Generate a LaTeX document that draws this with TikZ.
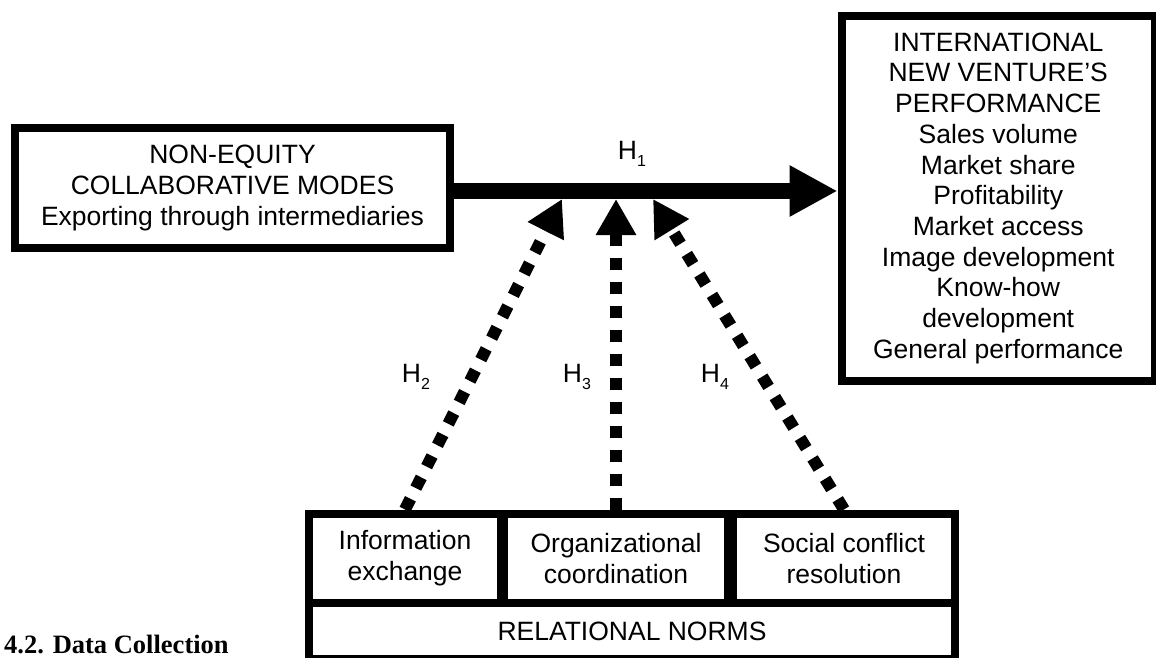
\documentclass[tikz,border=0pt]{standalone}
\usepackage{fontspec}
\setmainfont{Liberation Sans}
\newfontfamily\headfont{Liberation Serif}
\usetikzlibrary{arrows.meta}
\newcommand{\hyp}[1]{H\raisebox{-0.28em}{\fontsize{16}{16}\selectfont #1}}

\begin{document}
\begin{tikzpicture}[x=1pt,y=-1pt,
  box/.style={draw,line width=8pt,rectangle,align=center,inner sep=0pt,font=\fontsize{26.5}{30.7}\selectfont},
  hlabel/.style={inner sep=0pt,font=\fontsize{26.5}{30.7}\selectfont},
  dotarrow/.style={line width=12pt,dash pattern=on 12pt off 12pt,-{Triangle[length=36pt,width=38pt]}}]
\useasboundingbox (0,0) rectangle (1156,658);
\node[box,minimum width=435pt,minimum height=120pt] (modes) at (232.5,188) {NON-EQUITY\\COLLABORATIVE MODES\\Exporting through intermediaries};
\node[box,minimum width=313.5pt,minimum height=364.5pt] (perf) at (998.25,198.25) {INTERNATIONAL\\NEW VENTURE’S\\PERFORMANCE\\Sales volume\\Market share\\Profitability\\Market access\\Image development\\Know-how\\development\\General performance};
\node[box,minimum width=192pt,minimum height=89.5pt] (info) at (405,558.25) {Information\\exchange};
\node[box,minimum width=224pt,minimum height=89.5pt] (coord) at (616,558.25) {Organizational\\coordination};
\node[box,minimum width=222pt,minimum height=89.5pt] (social) at (844,558.25) {Social conflict\\resolution};
\node[box,minimum width=646pt,minimum height=56pt] (norms) at (632,631) {RELATIONAL NORMS};
\node[hlabel] (h1) at (632,154) {\hyp{1}};
\node[hlabel] (h2) at (416,377) {\hyp{2}};
\node[hlabel] (h3) at (577,377) {\hyp{3}};
\node[hlabel] (h4) at (715,377) {\hyp{4}};
\node[anchor=base west,inner sep=0pt,font=\headfont\bfseries\fontsize{26.5}{30}\selectfont] (sect) at (4,653) {4.2. Data Collection};
\coordinate (t2) at (562,199);
\coordinate (t4) at (653,199);
\draw[line width=16pt,-{Triangle[length=48pt,width=48pt]}] ([yshift=-3pt]modes.east) -- ([yshift=-3pt]modes.east -| perf.west);
\draw[dotarrow] (info.north) -- (t2);
\draw[dotarrow] (coord.north) -- (coord.north |- t2);
\draw[dotarrow] (social.north) -- (t4);
\end{tikzpicture}
\end{document}
